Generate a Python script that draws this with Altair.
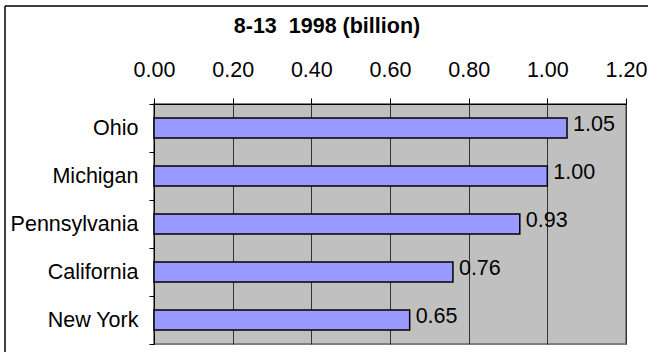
import altair as alt
import pandas as pd

# Values in billions, listed top to bottom
states = ["Ohio", "Michigan", "Pennsylvania", "California", "New York"]
values = [1.05, 1.00, 0.93, 0.76, 0.65]
x_ticks = [0.0, 0.2, 0.4, 0.6, 0.8, 1.0, 1.2]
title_text = "8-13\u00a0 1998 (billion)"

FONT = "Liberation Sans"
FS = 21.5

df = pd.DataFrame({"state": states, "value": values})
df["label"] = [f"{v:.2f}" for v in values]

x_enc = alt.X(
    "value:Q",
    scale=alt.Scale(domain=[0, 1.2], nice=False, zero=True),
    axis=alt.Axis(
        orient="top", values=x_ticks, format=".2f", title=None,
        grid=True, gridColor="#333333", gridWidth=1,
        domainColor="black", domainWidth=1, tickColor="black", tickSize=6, tickWidth=1,
        labelFont=FONT, labelFontSize=FS, labelColor="black",
        labelBaseline="alphabetic", labelPadding=22, labelFlush=False,
    ),
)
y_enc = alt.Y(
    "state:N", sort=states,
    scale=alt.Scale(paddingInner=0, paddingOuter=0),
    axis=alt.Axis(
        title=None, tickBand="extent", grid=False,
        domainColor="black", domainWidth=1, tickColor="black", tickSize=5, tickWidth=1,
        labelFont=FONT, labelFontSize=FS, labelColor="black", labelPadding=11,
    ),
)

bars = alt.Chart(df).mark_bar(
    size=20, color="#9999FF", stroke="black", strokeWidth=1.5
).encode(x=x_enc, y=y_enc)

labels = alt.Chart(df).mark_text(
    align="left", baseline="middle", dx=6, dy=-3,
    font=FONT, fontSize=FS, color="black",
).encode(x="value:Q", y=alt.Y("state:N", sort=states), text="label:N")

# Frame lines around the chart area
frame_df = pd.DataFrame({"k": [0]})
frame_top = alt.Chart(frame_df).mark_rule(color="black", strokeWidth=1.5).encode(
    x=alt.value(-149), x2=alt.value(520), y=alt.value(-98)
)
frame_left = alt.Chart(frame_df).mark_rule(color="black", strokeWidth=1.5).encode(
    x=alt.value(-149), y=alt.value(-98), y2=alt.value(300)
)

chart = alt.layer(bars, labels, frame_top, frame_left).properties(
    width=472, height=240,
    background="white",
    title=alt.TitleParams(
        title_text, font=FONT, fontSize=21.5, fontWeight="bold", color="black",
        anchor="middle", dx=-63, dy=40, offset=8,
    ),
    autosize=alt.AutoSizeParams(type="none"),
    padding={"left": 154, "top": 104, "right": 22, "bottom": 8},
).configure_view(
    fill="#C0C0C0", stroke="#808080", strokeWidth=2
)

chart.save("out.html", embed_options={"renderer": "svg", "actions": False})
